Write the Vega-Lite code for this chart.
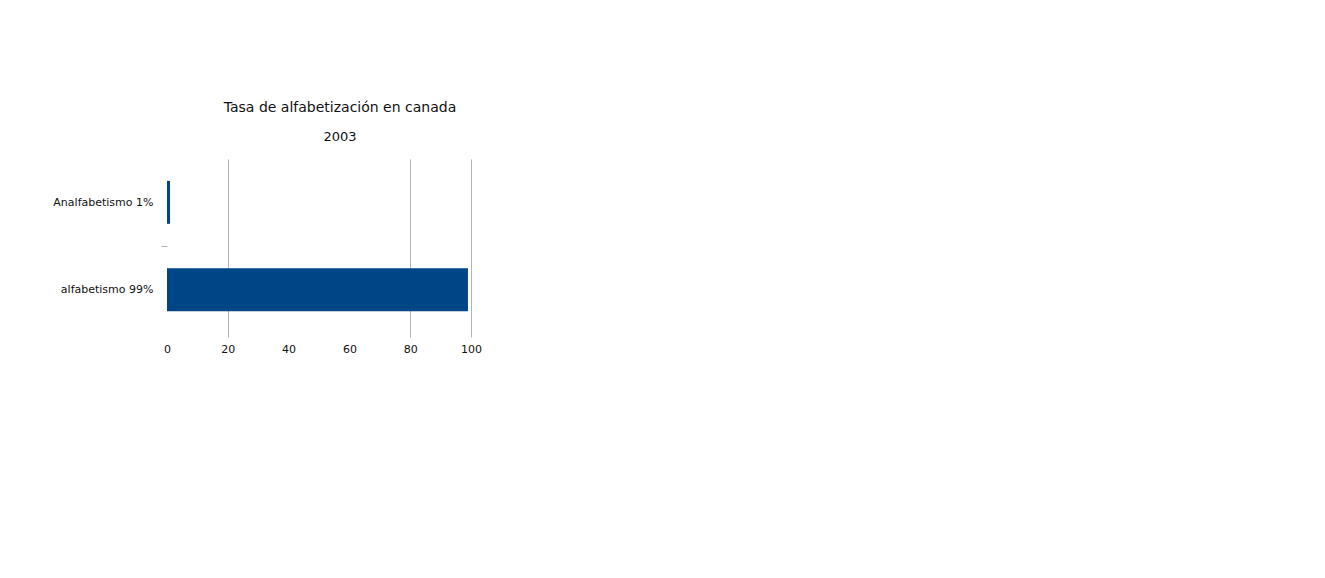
{
  "$schema": "https://vega.github.io/schema/vega-lite/v6.json",
  "description": "Tasa de alfabetizacion en canada, 2003",
  "autosize": "none",
  "padding": {"left": 167, "top": 159, "right": 854, "bottom": 241},
  "width": 304,
  "height": 178,
  "background": "white",
  "config": {
    "view": {"stroke": null},
    "font": "DejaVu Sans"
  },
  "title": {
    "text": "Tasa de alfabetización en canada",
    "subtitle": "2003",
    "anchor": "middle",
    "frame": "group",
    "dx": 21,
    "offset": 15,
    "fontSize": 14,
    "fontWeight": "normal",
    "color": "#111111",
    "subtitleFontSize": 13,
    "subtitleColor": "#111111",
    "subtitlePadding": 16
  },
  "data": {
    "values": [
      {"categoria": "Analfabetismo 1%", "valor": 1},
      {"categoria": "alfabetismo 99%", "valor": 99}
    ]
  },
  "mark": {"type": "bar", "color": "#004586"},
  "encoding": {
    "y": {
      "field": "categoria",
      "type": "nominal",
      "sort": null,
      "title": null,
      "scale": {"paddingInner": 0.509, "paddingOuter": 0.2715, "align": 0.46},
      "axis": {
        "domain": false,
        "ticks": true,
        "tickSize": 6,
        "tickOffset": -43.75,
        "tickColor": "#b3b3b3",
        "tickOpacity": {"condition": {"test": "datum.value == 'alfabetismo 99%'", "value": 1}, "value": 0},
        "labelOffset": 43.75,
        "labelFontSize": 11,
        "labelColor": "#111111",
        "labelPadding": 8
      }
    },
    "x": {
      "field": "valor",
      "type": "quantitative",
      "title": null,
      "scale": {"domain": [0, 100], "nice": false},
      "axis": {
        "values": [0, 20, 40, 60, 80, 100],
        "domain": false,
        "ticks": false,
        "labelFlush": false,
        "labelFontSize": 11,
        "labelColor": "#111111",
        "labelPadding": 6,
        "gridColor": "#b3b3b3",
        "gridOpacity": {"condition": {"test": "datum.value == 40 || datum.value == 60 || datum.value == 0", "value": 0}, "value": 1}
      }
    }
  }
}
